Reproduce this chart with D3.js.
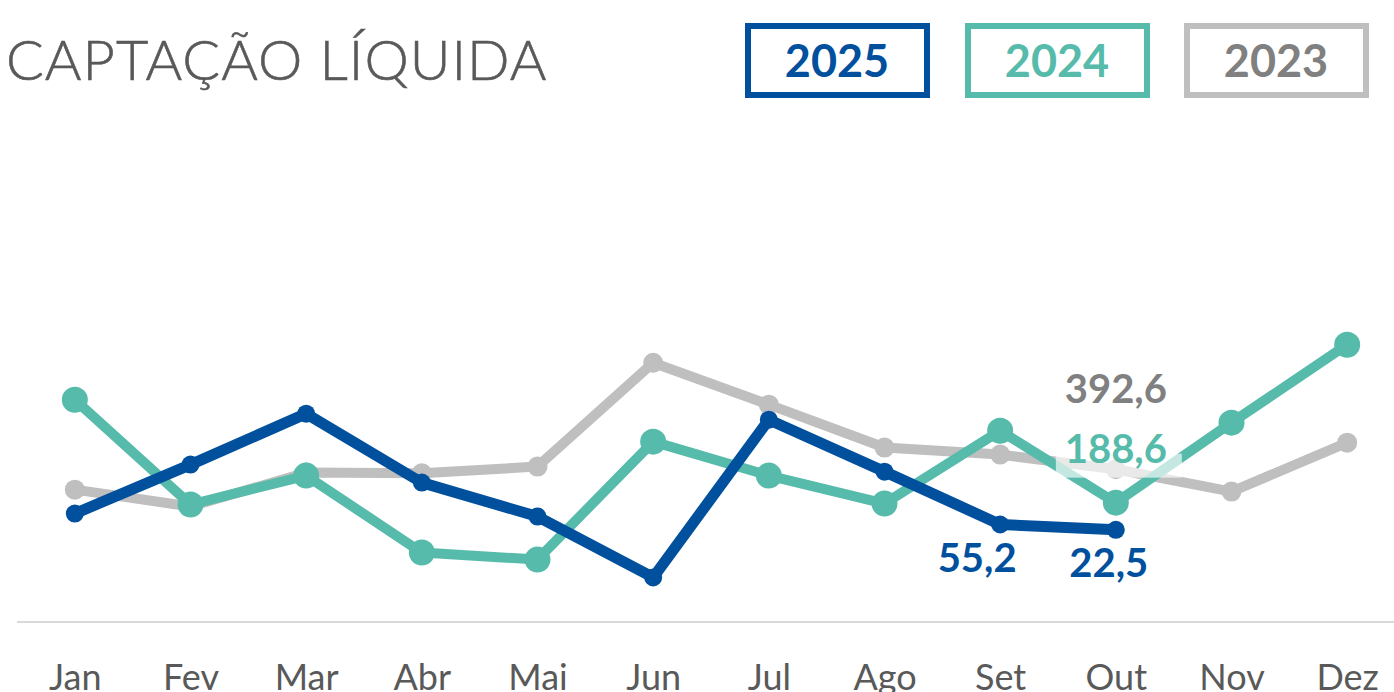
<!DOCTYPE html>
<html><head><meta charset="utf-8">
<script src="https://cdn.jsdelivr.net/npm/d3@7"></script>
<style>html,body{margin:0;padding:0;background:#fff;overflow:hidden}</style>
</head><body>
<svg id="chart" width="1394" height="692"></svg>
<script>
const months = ["Jan","Fev","Mar","Abr","Mai","Jun","Jul","Ago","Set","Out","Nov","Dez"];
const v2025 = [122, 421, 732, 311, 104, -268, 695, 378, 55.2, 22.5];
const v2024 = [817, 177, 354, -116, -159, 561, 354, 183, 628, 188.6, 677, 1153];
const v2023 = [268, 165, 372, 368, 409, 1043, 787, 525, 482, 392.6, 256, 555];
const legendYears = ["2025","2024","2023"];
const labels = [
  {series:"2023", month:"Out", value:392.6, text:"392,6"},
  {series:"2024", month:"Out", value:188.6, text:"188,6"},
  {series:"2025", month:"Set", value:55.2, text:"55,2"},
  {series:"2025", month:"Out", value:22.5, text:"22,5"}
];

const colors = {"2025":"#00509e","2024":"#56bbaa","2023":"#bfbfbf"};
const textColors = {"2025":"#00509e","2024":"#56bbaa","2023":"#808080"};
const svg = d3.select("#chart");
const x = d3.scalePoint().domain(months).range([17,1405]).padding(0.5);
const y = d3.scaleLinear().domain([-540,1200]).range([622,337]);

// title
svg.append("text").attr("x",6).attr("y",80).text("CAPTAÇÃO LÍQUIDA")
  .attr("font-family","Lato").attr("font-weight",300).attr("font-size",56)
  .attr("letter-spacing",1).attr("fill","#595959").attr("stroke","#595959").attr("stroke-width",0.6);

// legend
const lg = [{x:745},{x:965},{x:1184}];
legendYears.forEach((yr,i)=>{
  svg.append("rect").attr("x",lg[i].x+3).attr("y",26).attr("width",179).attr("height",69)
    .attr("fill","none").attr("stroke",colors[yr]).attr("stroke-width",6);
  svg.append("text").attr("x",lg[i].x+92).attr("y",77).attr("text-anchor","middle")
    .text(yr).attr("font-family","Lato").attr("font-weight",700).attr("font-size",45)
    .attr("fill", yr==="2023" ? "#808080" : colors[yr]);
});

// axis
const xAxis = d3.axisBottom(x).tickSize(0).tickPadding(42);
const ax = svg.append("g").attr("transform","translate(0,622)").call(xAxis);
ax.select(".domain").attr("d","M17,0H1394").attr("stroke","#d9d9d9").attr("stroke-width",2);
ax.selectAll("text").attr("font-family","Lato").attr("font-weight",400).attr("font-size",36).attr("fill","#595959")
  .attr("dy","0.71em");

const series = [
  {key:"2023", vals:v2023, width:10, r:10},
  {key:"2024", vals:v2024, width:10, r:13},
  {key:"2025", vals:v2025, width:11, r:9}
];
const line = d3.line().x((d,i)=>x(months[i])).y(d=>y(d));
series.forEach(s=>{
  const g = svg.append("g");
  g.append("path").datum(s.vals).attr("d",line).attr("fill","none")
    .attr("stroke",colors[s.key]).attr("stroke-width",s.width).attr("stroke-linejoin","round");
  g.selectAll("circle").data(s.vals).join("circle")
    .attr("cx",(d,i)=>x(months[i])).attr("cy",d=>y(d)).attr("r",s.r).attr("fill",colors[s.key]);
});

// labels
const lab = svg.append("g");
labels.forEach(l=>{
  const cx = x(l.month), cy = y(l.value);
  let ty, dx = 0;
  if (l.series==="2023") ty = cy - 66;
  else if (l.series==="2024") ty = cy - 40;
  else { ty = cy + 47; dx = l.month==="Set" ? -23 : -7; }
  if (l.series==="2024") {
    lab.append("rect").attr("x",cx-60).attr("y",cy-49).attr("width",126).attr("height",24)
      .attr("fill","#ffffff").attr("fill-opacity",0.65);
  }
  lab.append("text").attr("x",cx+dx).attr("y",ty)
    .attr("text-anchor","middle").text(l.text)
    .attr("font-family","Lato").attr("font-weight",700).attr("font-size",40)
    .attr("fill",textColors[l.series]);
});
</script>
</body></html>
